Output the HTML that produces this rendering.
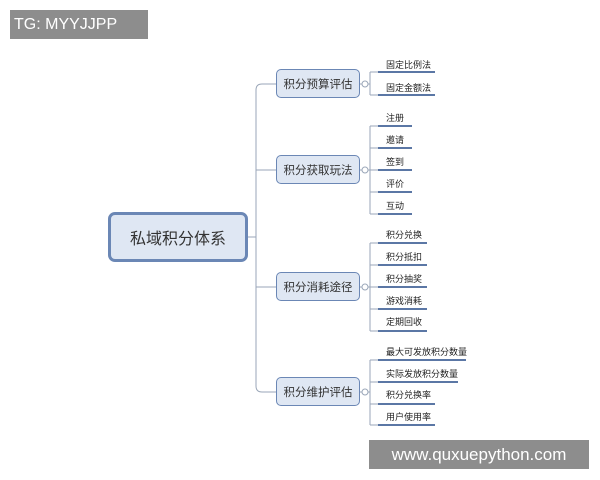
<!DOCTYPE html>
<html><head><meta charset="utf-8"><style>
body{margin:0;width:600px;height:480px;background:#fff;overflow:hidden;position:relative;font-family:"Liberation Sans","Noto Sans CJK SC",sans-serif}
.t{position:absolute;font-size:9px;color:#222;white-space:nowrap}
.n{position:absolute;background:#dfe7f3;border:1.5px solid #6b87b5;border-radius:5px;color:#333;font-size:11.5px;display:flex;align-items:center;justify-content:center;box-sizing:border-box}
.wm{position:absolute;background:#8d8d8d;color:#fff;font-size:15px;display:flex;align-items:center;justify-content:center}
</style></head><body>
<svg width="600" height="480" style="position:absolute;left:0;top:0">
<g stroke="#9aa6b8" stroke-width="1" fill="none">
<path d="M248 237 H256 M262 84 Q256 84 256 90 V386 Q256 392 262 392 M256 170 H276 M256 287 H276 M262 84 H276 M262 392 H276"/>
<path d="M360 84 H370 M370 72 V95 M370 72 H378 M370 95 H378"/>
<path d="M360 170 H370 M370 126 V214 M370 126 H378 M370 148 H378 M370 170 H378 M370 192 H378 M370 214 H378"/>
<path d="M360 287 H370 M370 243 V331 M370 243 H378 M370 265 H378 M370 287 H378 M370 309 H378 M370 331 H378"/>
<path d="M360 392 H370 M370 360 V425 M370 360 H378 M370 382 H378 M370 404 H378 M370 425 H378"/>
</g>
<g fill="#fff" stroke="#9aa6b8"><circle cx="365" cy="84" r="3"/><circle cx="365" cy="170" r="3"/><circle cx="365" cy="287" r="3"/><circle cx="365" cy="392" r="3"/></g>
<g stroke="#5b77a5" stroke-width="2">
<path d="M378 72 H435 M378 95 H435"/>
<path d="M378 126 H412 M378 148 H412 M378 170 H412 M378 192 H412 M378 214 H412"/>
<path d="M378 243 H427 M378 265 H427 M378 287 H427 M378 309 H427 M378 331 H427"/>
<path d="M378 360 H466 M378 382 H458 M378 404 H435 M378 425 H435"/>
</g>
</svg>
<div class="n" style="left:108px;top:212px;width:140px;height:50px;border:3px solid #6b87b5;border-radius:7px;font-size:16px">私域积分体系</div>
<div class="n" style="left:276px;top:69px;width:84px;height:29px">积分预算评估</div>
<div class="n" style="left:276px;top:155px;width:84px;height:29px">积分获取玩法</div>
<div class="n" style="left:276px;top:272px;width:84px;height:29px">积分消耗途径</div>
<div class="n" style="left:276px;top:377px;width:84px;height:29px">积分维护评估</div>
<div class="t" style="left:386px;top:58px">固定比例法</div>
<div class="t" style="left:386px;top:81px">固定金额法</div>
<div class="t" style="left:386px;top:111px">注册</div>
<div class="t" style="left:386px;top:133px">邀请</div>
<div class="t" style="left:386px;top:155px">签到</div>
<div class="t" style="left:386px;top:177px">评价</div>
<div class="t" style="left:386px;top:199px">互动</div>
<div class="t" style="left:386px;top:228px">积分兑换</div>
<div class="t" style="left:386px;top:250px">积分抵扣</div>
<div class="t" style="left:386px;top:272px">积分抽奖</div>
<div class="t" style="left:386px;top:294px">游戏消耗</div>
<div class="t" style="left:386px;top:315px">定期回收</div>
<div class="t" style="left:386px;top:345px">最大可发放积分数量</div>
<div class="t" style="left:386px;top:367px">实际发放积分数量</div>
<div class="t" style="left:386px;top:388px">积分兑换率</div>
<div class="t" style="left:386px;top:410px">用户使用率</div>
<div class="wm" style="left:10px;top:10px;width:138px;height:29px;justify-content:flex-start;padding-left:4px;box-sizing:border-box;font-size:16px">TG: MYYJJPP</div>
<div class="wm" style="left:369px;top:440px;width:220px;height:29px;font-size:17px">www.quxuepython.com</div>
</body></html>
